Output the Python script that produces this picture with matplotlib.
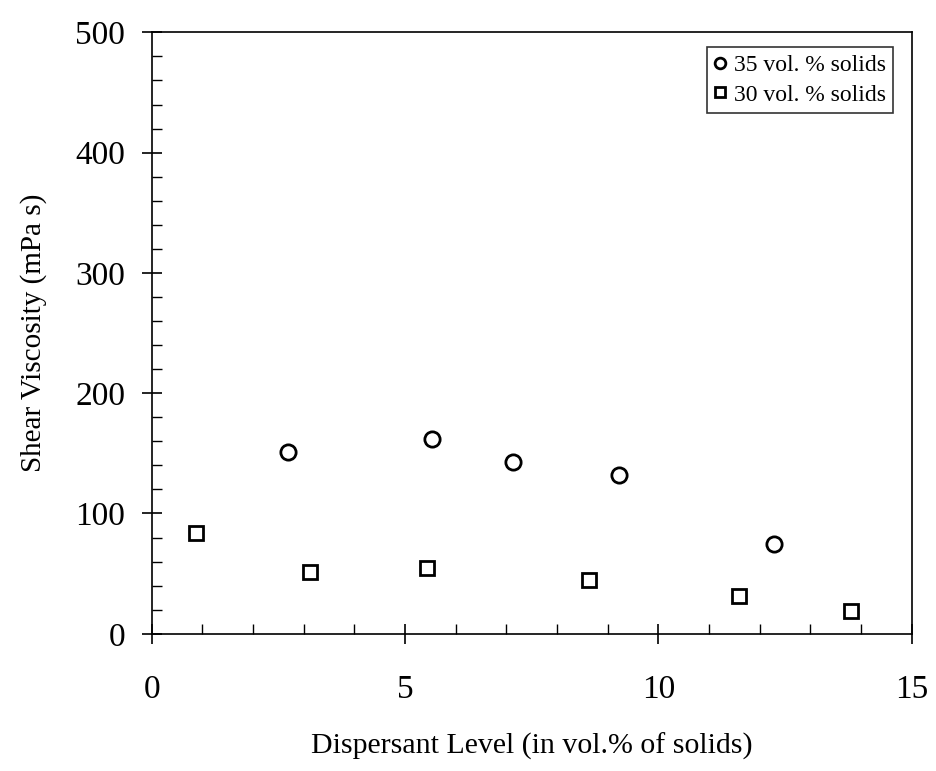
import numpy as np
import matplotlib
matplotlib.use('Agg')
import matplotlib.pyplot as plt
from matplotlib.ticker import MultipleLocator

plt.rcParams['font.family'] = ['Liberation Serif', 'DejaVu Serif']

# 35 vol.% solids
x35 = [2.70, 5.54, 7.14, 9.23, 12.28]
y35 = [151, 162, 143, 132, 75]
# 30 vol.% solids
x30 = [0.87, 3.13, 5.44, 8.63, 11.60, 13.80]
y30 = [84, 51, 55, 45, 31, 19]

fig = plt.figure(figsize=(9.36, 7.71), dpi=100)
ax = fig.add_axes([0.162, 0.178, 0.812, 0.780])

ax.plot(x35, y35, linestyle='none', marker='o', markersize=11,
        markerfacecolor='white', markeredgecolor='black', markeredgewidth=2,
        label='35 vol. % solids')
ax.plot(x30, y30, linestyle='none', marker='s', markersize=10,
        markerfacecolor='white', markeredgecolor='black', markeredgewidth=2,
        label='30 vol. % solids')

ax.set_xlim(0, 15)
ax.set_ylim(0, 500)
ax.xaxis.set_major_locator(MultipleLocator(5))
ax.xaxis.set_minor_locator(MultipleLocator(1))
ax.yaxis.set_major_locator(MultipleLocator(100))
ax.yaxis.set_minor_locator(MultipleLocator(20))
ax.tick_params(axis='x', which='major', pad=22)
ax.tick_params(axis='y', which='major', pad=12)
ax.tick_params(which='major', direction='inout', length=14, width=1.2,
               labelsize=24, top=False, right=False)
ax.tick_params(which='minor', direction='in', length=7, width=1,
               top=False, right=False)
for s in ax.spines.values():
    s.set_linewidth(1.2)

ax.set_xlabel('Dispersant Level (in vol.% of solids)', fontsize=21.5, labelpad=20)
ax.set_ylabel('Shear Viscosity (mPa s)', fontsize=21, labelpad=20)

leg = ax.legend(loc='upper right', fontsize=17, frameon=True, fancybox=False,
                edgecolor='black', handlelength=0.55, handletextpad=0.3,
                borderpad=0.3, labelspacing=0.35, markerscale=0.7,
                bbox_to_anchor=(0.991, 0.995))
leg.get_frame().set_linewidth(1.2)

fig.savefig('out.png', dpi=100)
